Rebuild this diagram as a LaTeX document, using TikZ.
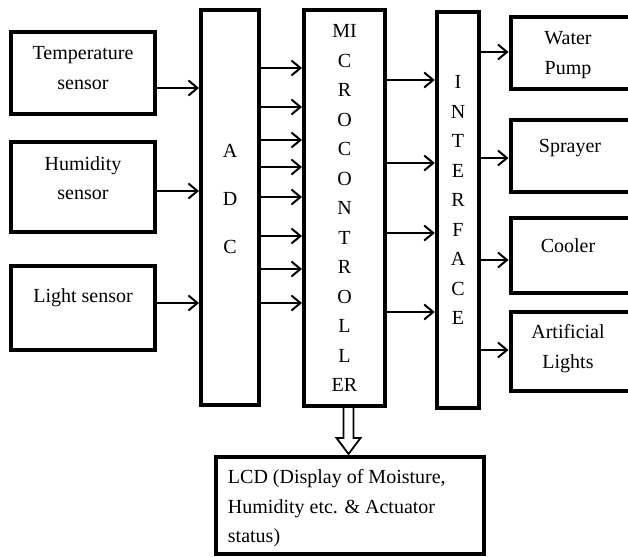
\documentclass[tikz,border=0pt]{standalone}
\usepackage{fontspec}
\setmainfont{Liberation Serif}
\usetikzlibrary{arrows.meta}
\tikzstyle{block}=[draw,line width=4pt,inner sep=0pt]
\tikzstyle{edge} = [draw,line width=2pt,-{Straight Barb[length=9pt,width=15pt]}]
\tikzstyle{caption} = [font=\fontsize{20}{29.5}\selectfont,align=center,inner sep=0pt]
\tikzstyle{bus} = [draw,line width=1.8pt,miter limit=4]

\begin{document}
\begin{tikzpicture}[x=1pt,y=-1pt]
	\clip (0,0) rectangle (628,556);

	% First we draw the blocks
	\foreach \pos/\name/\w/\h in {{(83,73)/temp/144/82}, {(83,187)/humid/144/90}, {(83,308)/light/144/84},
		{(230,207.5)/adc/58/394}, {(344.5,208)/mcu/81/395}, {(458,210)/iface/42.5/396},
		{(580,53)/pump/139/71.5}, {(580,156)/spray/139/72}, {(580,255.5)/cool/139/75}, {(580,351.5)/lamp/139/79},
		{(350,505.5)/lcd/268.5/97}}
	\node[block,minimum width=\w pt,minimum height=\h pt] (\name) at \pos {};

	% Then the texts inside them
	\foreach \name/\dx/\dy/\txt in {temp/0/5/{Temperature\\sensor}, humid/0/9/{Humidity\\sensor}, light/0/10/{Light sensor},
		adc/0/9/{A\\[18.5pt]D\\[18.5pt]C},
		mcu/0/0/{MI\\C\\R\\O\\C\\O\\N\\T\\R\\O\\L\\L\\ER},
		iface/0/10/{I\\N\\T\\E\\R\\F\\A\\C\\E},
		pump/-12/-2/{Water\\Pump}, spray/-10/8/{Sprayer}, cool/-12/10/{Cooler}, lamp/-12/3/{Artificial\\Lights}}
	\node[caption] at ([xshift=\dx pt,yshift=\dy pt]\name.center) {\txt};
	\node[caption,align=left,anchor=west] at ([xshift=14pt,yshift=-3pt]lcd.west)
		{LCD (Display of Moisture,\\Humidity etc. \& Actuator\\status)};

	% Sensors into the ADC
	\foreach \source/\y in {temp/88, humid/191, light/303}
	\path[edge] (\source.east |- 0,\y) -- (adc.west |- 0,\y);

	% ADC channels into the microcontroller
	\foreach \y in {68,107,140,167,197,236,269,303}
	\path[edge] (adc.east |- 0,\y) -- (mcu.west |- 0,\y);

	% Microcontroller to the interface
	\foreach \y in {80,163,233,312}
	\path[edge] (mcu.east |- 0,\y) -- (iface.west |- 0,\y);

	% Interface to the actuators
	\foreach \dest/\y in {pump/52, spray/158, cool/260, lamp/350}
	\path[edge] (iface.east |- 0,\y) -- (\dest.west |- 0,\y);

	% Display output: hollow block arrow down to the LCD
	\coordinate (top) at ([xshift=4pt]mcu.south);
	\coordinate (tip) at ([xshift=4pt,yshift=1pt]mcu.south |- lcd.north);
	\path[bus] ([xshift=-5pt]top) -- ([xshift=-5pt,yshift=16pt]tip) -- ([xshift=-12pt,yshift=16pt]tip)
		-- (tip) -- ([xshift=12pt,yshift=16pt]tip) -- ([xshift=5pt,yshift=16pt]tip) -- ([xshift=5pt]top);
\end{tikzpicture}
\end{document}
